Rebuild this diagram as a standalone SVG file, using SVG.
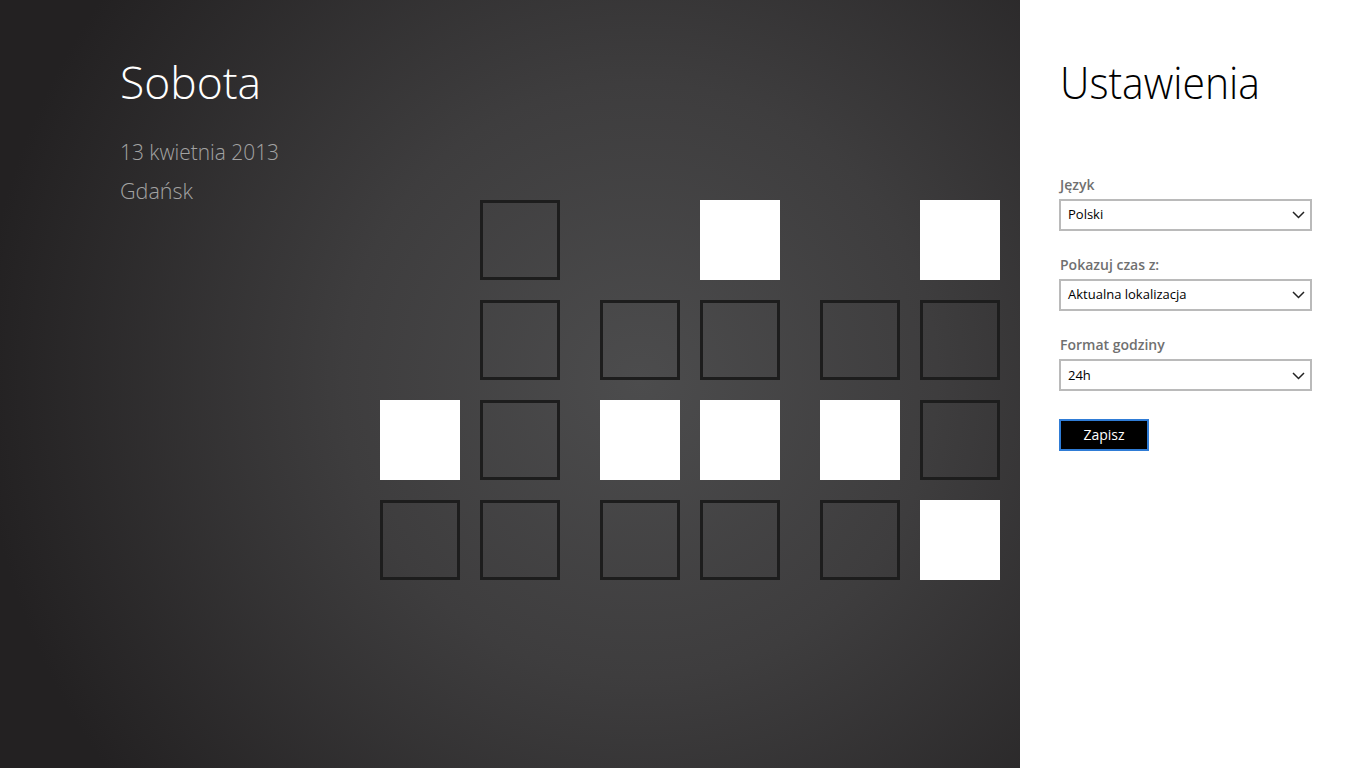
<svg xmlns="http://www.w3.org/2000/svg" width="1366" height="768" viewBox="0 0 1366 768">
<defs>
<radialGradient id="bg" gradientUnits="userSpaceOnUse" cx="640" cy="380" r="660">
<stop offset="0" stop-color="#4c4c4d"/>
<stop offset="0.45" stop-color="#3e3d3e"/>
<stop offset="1" stop-color="#232122"/>
</radialGradient>
<style>
.off{fill:none;stroke:#1d1d1d;stroke-width:3}
.on{fill:#ffffff}
.big{font-family:"Open Sans","Liberation Sans",sans-serif;font-weight:300;font-size:45px}
.sub{font-family:"Open Sans","Liberation Sans",sans-serif;font-weight:300;font-size:22px;fill:#a3a3a3}
.lbl{font-family:"Open Sans","Liberation Sans",sans-serif;font-weight:600;font-size:14px;fill:#707070}
.val{font-family:"Open Sans","Liberation Sans",sans-serif;font-size:13px;fill:#000}
.box{fill:#fff;stroke:#bababa;stroke-width:2}
.chev{fill:none;stroke:#222;stroke-width:1.5}
</style>
</defs>
<rect x="0" y="0" width="1020" height="768" fill="url(#bg)"/>
<rect x="1020" y="0" width="346" height="768" fill="#ffffff"/>

<g id="info">
<text class="big" x="120" y="99" fill="#ffffff" textLength="141" lengthAdjust="spacingAndGlyphs">Sobota</text>
<text class="sub" x="120" y="160" textLength="159" lengthAdjust="spacingAndGlyphs">13 kwietnia 2013</text>
<text class="sub" x="120" y="199" textLength="73" lengthAdjust="spacingAndGlyphs">Gdańsk</text>
</g>

<g id="clock">
<rect class="off" x="481.5" y="201.5" width="77" height="77"/>
<rect class="on" x="700" y="200" width="80" height="80"/>
<rect class="on" x="920" y="200" width="80" height="80"/>

<rect class="off" x="481.5" y="301.5" width="77" height="77"/>
<rect class="off" x="601.5" y="301.5" width="77" height="77"/>
<rect class="off" x="701.5" y="301.5" width="77" height="77"/>
<rect class="off" x="821.5" y="301.5" width="77" height="77"/>
<rect class="off" x="921.5" y="301.5" width="77" height="77"/>

<rect class="on" x="380" y="400" width="80" height="80"/>
<rect class="off" x="481.5" y="401.5" width="77" height="77"/>
<rect class="on" x="600" y="400" width="80" height="80"/>
<rect class="on" x="700" y="400" width="80" height="80"/>
<rect class="on" x="820" y="400" width="80" height="80"/>
<rect class="off" x="921.5" y="401.5" width="77" height="77"/>

<rect class="off" x="381.5" y="501.5" width="77" height="77"/>
<rect class="off" x="481.5" y="501.5" width="77" height="77"/>
<rect class="off" x="601.5" y="501.5" width="77" height="77"/>
<rect class="off" x="701.5" y="501.5" width="77" height="77"/>
<rect class="off" x="821.5" y="501.5" width="77" height="77"/>
<rect class="on" x="920" y="500" width="80" height="80"/>
</g>

<g id="settings">
<text class="big" x="1060" y="99" fill="#000000" textLength="200" lengthAdjust="spacingAndGlyphs">Ustawienia</text>

<g id="lang">
<text class="lbl" x="1060" y="190">Język</text>
<rect class="box" x="1060" y="200" width="251" height="30"/>
<text class="val" x="1068" y="219">Polski</text>
<polyline class="chev" points="1293,212 1298.5,217.5 1304,212"/>
</g>

<g id="timefrom">
<text class="lbl" x="1060" y="270">Pokazuj czas z:</text>
<rect class="box" x="1060" y="280" width="251" height="30"/>
<text class="val" x="1068" y="299">Aktualna lokalizacja</text>
<polyline class="chev" points="1293,292 1298.5,297.5 1304,292"/>
</g>

<g id="format">
<text class="lbl" x="1060" y="350">Format godziny</text>
<rect class="box" x="1060" y="360" width="251" height="30"/>
<text class="val" x="1068" y="380">24h</text>
<polyline class="chev" points="1293,373 1298.5,378.5 1304,373"/>
</g>

<g id="save">
<rect x="1060" y="420" width="88" height="30" fill="#000" stroke="#2f7cd6" stroke-width="2"/>
<text x="1104" y="440" text-anchor="middle" font-family="'Open Sans','Liberation Sans',sans-serif" font-size="14" fill="#fff">Zapisz</text>
</g>
</g>
</svg>
